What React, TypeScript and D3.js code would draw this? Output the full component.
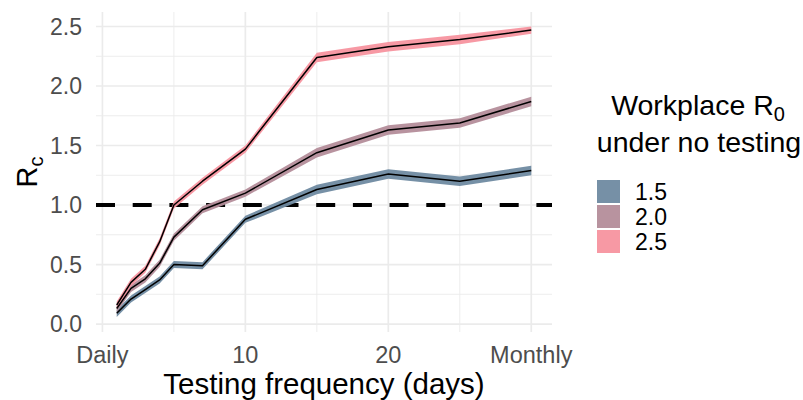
import React from 'react';
import * as d3 from 'd3';

// testing interval in days
const days = [1, 2, 3, 4, 5, 7, 10, 15, 20, 25, 30];

// workplace R0 groups (legend)
const groups = ['1.5', '2.0', '2.5'];
const colors = ['#6F8AA1', '#B48D9A', '#F7949F'];

// Rc estimates with ribbon bounds
const rc15 = [0.09, 0.21, 0.29, 0.37, 0.5, 0.49, 0.88, 1.13, 1.26, 1.2, 1.29];
const lo15 = [0.06, 0.18, 0.26, 0.34, 0.47, 0.46, 0.85, 1.09, 1.22, 1.16, 1.25];
const hi15 = [0.12, 0.24, 0.32, 0.4, 0.53, 0.52, 0.91, 1.17, 1.3, 1.24, 1.33];

const rc20 = [0.13, 0.3, 0.38, 0.51, 0.73, 0.96, 1.1, 1.44, 1.63, 1.69, 1.87];
const lo20 = [0.1, 0.27, 0.35, 0.48, 0.7, 0.93, 1.07, 1.4, 1.59, 1.65, 1.83];
const hi20 = [0.16, 0.33, 0.41, 0.54, 0.76, 0.99, 1.13, 1.48, 1.67, 1.73, 1.91];

const rc25 = [0.16, 0.35, 0.46, 0.69, 1.0, 1.2, 1.47, 2.24, 2.33, 2.39, 2.47];
const lo25 = [0.13, 0.32, 0.43, 0.66, 0.97, 1.17, 1.44, 2.2, 2.29, 2.35, 2.44];
const hi25 = [0.19, 0.38, 0.49, 0.72, 1.03, 1.23, 1.5, 2.28, 2.37, 2.43, 2.5];

// axis breaks
const xBreaks = [0, 10, 20, 30];
const xLabels = ['Daily', '10', '20', 'Monthly'];
const xMinor = [5, 15, 25];
const yBreaks = [0, 0.5, 1, 1.5, 2, 2.5];
const yMinor = [0.25, 0.75, 1.25, 1.75, 2.25];
const threshold = 1;

const font = '"Liberation Sans", Arial, Helvetica, sans-serif';

export default function App() {
  const width = 803;
  const height = 400;
  const panel = { left: 96, right: 552, top: 12, bottom: 332 };

  const x = d3.scaleLinear().domain([-0.45, 31.45]).range([panel.left, panel.right]);
  const y = d3.scaleLinear().domain([-0.067, 2.622]).range([panel.bottom, panel.top]);

  const series = [
    { mid: rc15, lo: lo15, hi: hi15 },
    { mid: rc20, lo: lo20, hi: hi20 },
    { mid: rc25, lo: lo25, hi: hi25 },
  ];

  const ribbon = (lo: number[], hi: number[]) =>
    d3.area<number>()
      .x(d => x(d))
      .y0((_, i) => y(lo[i]))
      .y1((_, i) => y(hi[i]))(days);

  const line = d3.line<number>()
    .x((_, i) => x(days[i]))
    .y(d => y(d));

  const grid = '#EBEBEB';
  const legendX = 597;
  const legendY = 180;
  const keySize = 23;
  const keyStep = 25;

  return (
    <svg width={width} height={height} style={{ position: 'absolute', left: 0, top: 0, background: '#fff' }}>
      {/* minor grid */}
      {yMinor.map(v => (
        <line key={'ym' + v} x1={panel.left} x2={panel.right} y1={y(v)} y2={y(v)} stroke={grid} strokeWidth={0.9} />
      ))}
      {xMinor.map(v => (
        <line key={'xm' + v} x1={x(v)} x2={x(v)} y1={panel.top} y2={panel.bottom} stroke={grid} strokeWidth={0.9} />
      ))}
      {/* major grid */}
      {yBreaks.map(v => (
        <line key={'yb' + v} x1={panel.left} x2={panel.right} y1={y(v)} y2={y(v)} stroke={grid} strokeWidth={1.7} />
      ))}
      {xBreaks.map(v => (
        <line key={'xb' + v} x1={x(v)} x2={x(v)} y1={panel.top} y2={panel.bottom} stroke={grid} strokeWidth={1.7} />
      ))}

      {/* threshold */}
      <line x1={panel.left} x2={panel.right} y1={y(threshold)} y2={y(threshold)}
        stroke="#000" strokeWidth={3.8} strokeDasharray="19,17.7" />

      {/* ribbons */}
      {series.map((s, i) => (
        <path key={'r' + i} d={ribbon(s.lo, s.hi) || ''} fill={colors[i]} fillOpacity={0.95} />
      ))}
      {/* lines */}
      {series.map((s, i) => (
        <path key={'l' + i} d={line(s.mid) || ''} fill="none" stroke="#000" strokeWidth={1.5} strokeLinejoin="round" />
      ))}

      {/* y tick labels */}
      {yBreaks.map(v => (
        <text key={'yt' + v} x={82} y={y(v)} dy="0.36em" textAnchor="end"
          fontFamily={font} fontSize={23} fill="#4D4D4D">{v.toFixed(1)}</text>
      ))}
      {/* x tick labels */}
      {xBreaks.map((v, i) => (
        <text key={'xt' + v} x={x(v)} y={363} textAnchor="middle"
          fontFamily={font} fontSize={23.5} fill="#4D4D4D">{xLabels[i]}</text>
      ))}

      {/* axis titles */}
      <text x={(panel.left + panel.right) / 2} y={394} textAnchor="middle" fontFamily={font} fontSize={29.5} fill="#000">
        Testing frequency (days)
      </text>
      <text transform={`translate(37, ${(panel.top + panel.bottom) / 2}) rotate(-90)`} textAnchor="middle"
        fontFamily={font} fontSize={29} fill="#000">
        R<tspan fontSize={20} dy={6}>c</tspan>
      </text>

      {/* legend */}
      <text x={698} y={115} textAnchor="middle" fontFamily={font} fontSize={28.5} fill="#000">
        Workplace R<tspan fontSize={20} dy={6}>0</tspan>
      </text>
      <text x={699} y={152} textAnchor="middle" fontFamily={font} fontSize={28.5} fill="#000">
        under no testing
      </text>
      {groups.map((g, i) => (
        <g key={'lg' + g}>
          <rect x={legendX} y={legendY + i * keyStep} width={keySize} height={keySize} fill={colors[i]} fillOpacity={0.95} />
          <text x={635} y={legendY + i * keyStep + keySize / 2} dy="0.36em" fontFamily={font} fontSize={23} fill="#000">
            {g}
          </text>
        </g>
      ))}
    </svg>
  );
}
